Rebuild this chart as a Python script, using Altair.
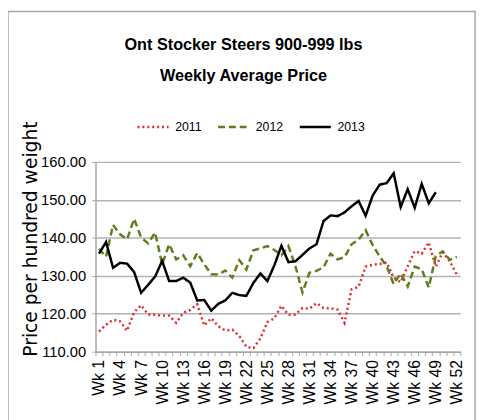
import altair as alt
import pandas as pd

weeks = list(range(1, 53))

y2011 = [115.3, 117.1, 118.4, 118.0, 115.5, 120.4, 122.2, 119.8, 119.7, 119.5,
         119.5, 117.6, 120.2, 121.0, 122.5, 116.9, 118.8, 116.7, 115.6, 115.8,
         114.1, 111.3, 110.9, 113.5, 117.8, 118.8, 122.1, 119.7, 119.8, 121.5,
         121.3, 122.8, 121.5, 121.4, 121.1, 117.6, 126.4, 127.1, 132.4, 132.9,
         133.1, 133.5, 129.5, 128.3, 132.5, 136.5, 135.8, 138.8, 132.4, 136.2,
         133.8, 130.3]

y2012 = [137.1, 135.0, 143.4, 140.9, 139.6, 145.0, 140.1, 138.5, 141.4, 133.0,
         138.3, 134.3, 135.4, 132.5, 136.0, 133.0, 130.4, 130.3, 131.4, 129.5,
         134.1, 131.6, 136.7, 137.2, 137.8, 136.8, 135.4, 137.8, 132.5, 125.6,
         130.8, 131.3, 132.2, 135.8, 134.3, 134.9, 138.3, 139.5, 142.0, 138.1,
         135.1, 132.5, 127.8, 130.6, 127.2, 132.4, 131.7, 126.9, 135.2, 136.4,
         134.2, 135.0]

y2013 = [135.8, 138.9, 132.1, 133.4, 133.2, 131.0, 125.5, 127.6, 129.8, 133.9,
         128.6, 128.6, 129.5, 128.2, 123.5, 123.6, 120.8, 122.6, 123.5, 125.5,
         124.9, 124.7, 128.1, 130.6, 128.6, 132.8, 137.9, 133.6, 133.8, 135.5,
         137.2, 138.3, 144.4, 145.9, 145.7, 146.7, 148.3, 149.7, 145.8, 151.1,
         154.0, 154.4, 157.0, 148.1, 152.8, 147.9, 154.2, 149.1, 152.0]

years = ["2011", "2012", "2013"]
colors = ["#e3262b", "#5e7d1e", "#000000"]
dashes = [[2, 3], [7, 4], [1, 0]]

rows = []
for yr, vals in zip(years, [y2011, y2012, y2013]):
    for w, v in zip(weeks, vals):
        rows.append({"week": w, "year": yr, "price": v})
df = pd.DataFrame(rows)

FONT = "Liberation Sans, Arial, sans-serif"

legend_kw = dict(title=None, orient="none", legendX=41, legendY=-53,
                 direction="horizontal", symbolType="stroke",
                 symbolSize=1000, symbolStrokeWidth=2.5,
                 labelFont=FONT, labelFontSize=12.5,
                 labelColor="#000000", labelOffset=5,
                 columnPadding=11, padding=0)

lines = alt.Chart(df).mark_line(strokeWidth=2.5, strokeCap="butt").encode(
    x=alt.X("week:O", sort=weeks, title=None,
            scale=alt.Scale(paddingInner=0, paddingOuter=0),
            axis=alt.Axis(
                labelExpr="(datum.value - 1) % 3 == 0 ? 'Wk ' + datum.value : ''",
                labelAngle=270, labelAlign="right", labelBaseline="middle",
                labelFont=FONT, labelFontSize=16, labelColor="#000000",
                labelPadding=4, tickBand="extent", tickSize=4, tickColor="#a6a6a6",
                domainColor="#a6a6a6", domainWidth=1.5, grid=False,
                labelOverlap=False)),
    y=alt.Y("price:Q", title="Price per hundred weight",
            scale=alt.Scale(domain=[110, 160], nice=False, zero=False),
            axis=alt.Axis(values=[110, 120, 130, 140, 150, 160], format=".2f",
                          labelFont=FONT, labelFontSize=15,
                          labelColor="#000000", labelPadding=6,
                          tickSize=4, tickColor="#a6a6a6",
                          domainColor="#a6a6a6", domainWidth=1.5,
                          gridColor="#b3b3b3", gridWidth=1.5,
                          titleFont="DejaVu Sans", titleFontSize=19,
                          titleFontWeight="normal", titleColor="#000000",
                          titleAngle=270, titleAlign="center", titleBaseline="middle",
                          titleX=-66, titleY=78)),
    color=alt.Color("year:N", scale=alt.Scale(domain=years, range=colors),
                    legend=alt.Legend(**legend_kw)),
    strokeDash=alt.StrokeDash("year:N", scale=alt.Scale(domain=years, range=dashes),
                              legend=alt.Legend(**legend_kw)),
)

frame = alt.Chart(pd.DataFrame({"a": [0]})).mark_rect(
    fill=None, stroke="#a6a6a6", strokeWidth=1.5, clip=False
).encode(x=alt.value(-89), x2=alt.value(386), y=alt.value(-153), y2=alt.value(270))

chart = alt.layer(frame, lines).properties(
    width=371, height=193,
    title=alt.TitleParams(
        text=["Ont Stocker Steers 900-999 lbs", "Weekly Average Price"],
        font=FONT, fontSize=16.5, fontWeight="bold", color="#000000",
        anchor="middle", dx=-35, offset=0, dy=75, lineHeight=32),
    autosize=alt.AutoSizeParams(type="none"),
    padding={"left": 89, "top": 153, "right": 19, "bottom": 66},
).configure_view(stroke=None)

chart.save("out.html", embed_options={"renderer": "svg", "actions": False})
